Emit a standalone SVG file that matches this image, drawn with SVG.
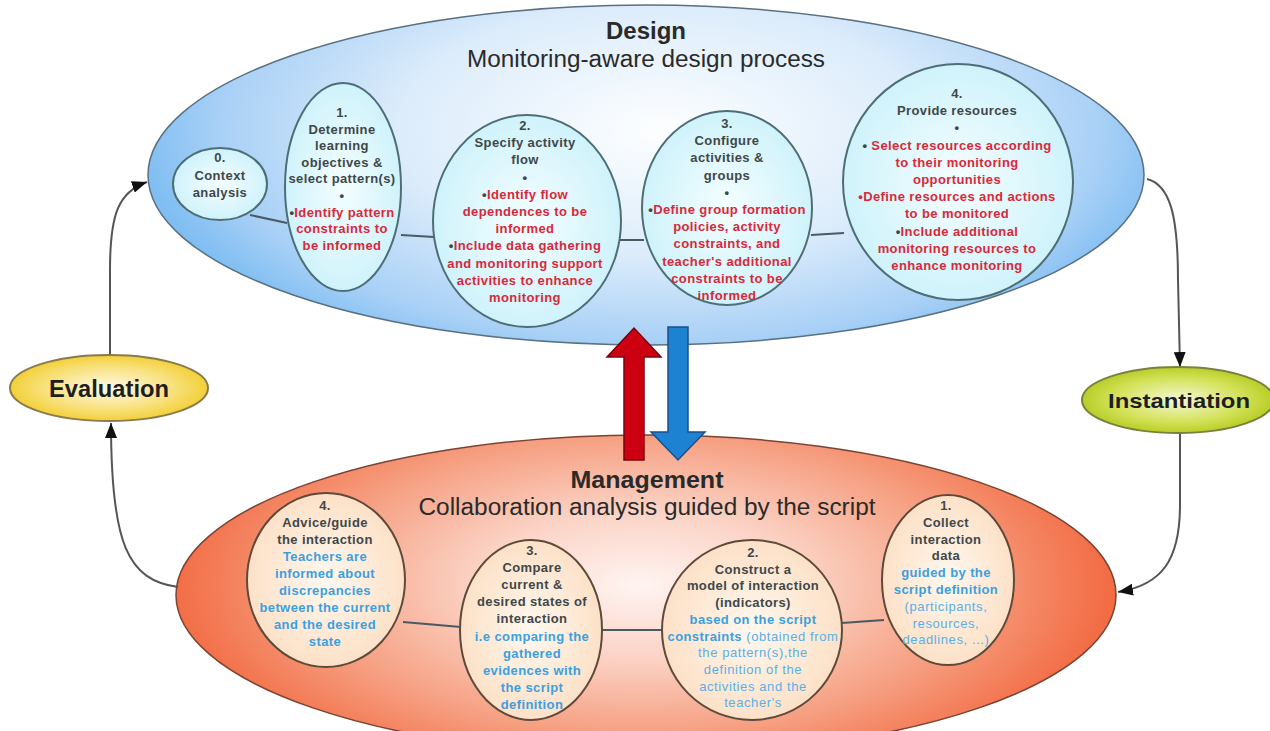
<svg xmlns="http://www.w3.org/2000/svg" width="1270" height="731" viewBox="0 0 1270 731">
<style>
.t{font-family:"Liberation Sans",Arial,sans-serif;font-weight:bold;font-size:13px;letter-spacing:0.4px;text-anchor:middle}
.g{fill:#3f4749}
.r{fill:#d9283a}
.b{fill:#3c9fe0}
.bl{fill:#5aafe6;font-weight:normal;letter-spacing:0.6px}
.dn{stroke:#4e6e76;stroke-width:2;fill:url(#gDN)}
.mn{stroke:#5e4a3a;stroke-width:2;fill:url(#gMN)}
.lk{stroke:#4a5a60;stroke-width:2;fill:none}
.cn{stroke:#555;stroke-width:2;fill:none;marker-end:url(#ah)}
.h1{font-family:"Liberation Sans",Arial,sans-serif;font-weight:bold;font-size:23px;text-anchor:middle;fill:#2a2a2a}
.h2{font-family:"Liberation Sans",Arial,sans-serif;font-size:23px;text-anchor:middle;fill:#2a2a2a}
</style>
<defs>
<radialGradient id="gDesign" gradientUnits="userSpaceOnUse" cx="0" cy="0" r="1" gradientTransform="translate(660,130) scale(520,250)">
<stop offset="0" stop-color="#fdfeff"/><stop offset="0.5" stop-color="#dcecfb"/><stop offset="0.85" stop-color="#a8d0f6"/><stop offset="1" stop-color="#80bef2"/>
</radialGradient>
<radialGradient id="gMan" gradientUnits="userSpaceOnUse" cx="0" cy="0" r="1" gradientTransform="translate(640,585) scale(470,215)">
<stop offset="0" stop-color="#fff4f2"/><stop offset="0.35" stop-color="#fbd2c4"/><stop offset="0.7" stop-color="#f69e80"/><stop offset="1" stop-color="#f26c44"/>
</radialGradient>
<radialGradient id="gDN" cx="0.5" cy="0.5" r="0.6">
<stop offset="0" stop-color="#f4feff"/><stop offset="1" stop-color="#c8f0fa"/>
</radialGradient>
<radialGradient id="gMN" cx="0.5" cy="0.5" r="0.6">
<stop offset="0" stop-color="#fff8ef"/><stop offset="1" stop-color="#fcdcbf"/>
</radialGradient>
<radialGradient id="gEval" cx="0.5" cy="0.5" r="0.55">
<stop offset="0" stop-color="#fffbe8"/><stop offset="0.6" stop-color="#f8e07a"/><stop offset="1" stop-color="#f1cb25"/>
</radialGradient>
<radialGradient id="gInst" cx="0.5" cy="0.5" r="0.55">
<stop offset="0" stop-color="#f4f8d8"/><stop offset="0.6" stop-color="#d4e25a"/><stop offset="1" stop-color="#b0c818"/>
</radialGradient>
<marker id="ah" markerUnits="userSpaceOnUse" markerWidth="16" markerHeight="12" refX="15" refY="6" orient="auto">
<path d="M0,0 L15,6 L0,12 z" fill="#111"/>
</marker>
</defs>
<rect width="1270" height="731" fill="#ffffff"/>

<g id="design">
<ellipse cx="646" cy="175" rx="498" ry="170" fill="url(#gDesign)" stroke="#5a7080" stroke-width="1.5"/>
<text class="h1" x="646" y="39" textLength="80" lengthAdjust="spacingAndGlyphs">Design</text>
<text class="h2" x="646" y="67" textLength="358" lengthAdjust="spacingAndGlyphs">Monitoring-aware design process</text>
</g>

<g id="management">
<ellipse cx="646" cy="595" rx="470" ry="160" fill="url(#gMan)" stroke="#7a4434" stroke-width="1.5"/>
<text class="h1" x="647" y="488" textLength="153" lengthAdjust="spacingAndGlyphs">Management</text>
<text class="h2" x="647" y="515" textLength="457" lengthAdjust="spacingAndGlyphs">Collaboration analysis guided by the script</text>
</g>

<g id="connectors">
<path class="lk" d="M250,215 L287,223"/>
<path class="lk" d="M401,235 L434,237"/>
<path class="lk" d="M619,240 L644,240"/>
<path class="lk" d="M811,235 L844,233"/>
<path class="lk" d="M403,622 L461,627"/>
<path class="lk" d="M601,630 L663,630"/>
<path class="lk" d="M842,623 L884,620"/>
<path class="cn" d="M110,355 L110,270 C110,215 118,192 147,182"/>
<path class="cn" d="M178,587 C128,580 111,545 111,423"/>
<path class="cn" d="M1147,179 C1170,185 1178,215 1178,280 L1180,367"/>
<path class="cn" d="M1180,433 L1180,505 C1180,560 1162,585 1118,592"/>
</g>

<g id="d0">
<ellipse class="dn" cx="220" cy="184" rx="47" ry="36"/>
<text class="t g"><tspan x="220" y="162">0.</tspan><tspan x="220" y="180">Context</tspan><tspan x="220" y="197">analysis</tspan></text>
</g>

<g id="d1">
<ellipse class="dn" cx="343" cy="187" rx="58" ry="104"/>
<text class="t g"><tspan x="342" y="117">1.</tspan><tspan x="342" y="133.6">Determine</tspan><tspan x="342" y="150.2">learning</tspan><tspan x="342" y="166.8">objectives &amp;</tspan><tspan x="342" y="183.4">select pattern(s)</tspan><tspan x="342" y="200">•</tspan></text>
<text class="t r"><tspan x="342" y="216.6"><tspan class="g">•</tspan>Identify pattern</tspan><tspan x="342" y="233.2">constraints to</tspan><tspan x="342" y="249.8">be informed</tspan></text>
</g>

<g id="d2">
<ellipse class="dn" cx="527" cy="221" rx="94" ry="106"/>
<text class="t g"><tspan x="525" y="130">2.</tspan><tspan x="525" y="147.2">Specify activity</tspan><tspan x="525" y="164.4">flow</tspan><tspan x="525" y="181.6">•</tspan></text>
<text class="t r"><tspan x="525" y="198.8"><tspan class="g">•</tspan>Identify flow</tspan><tspan x="525" y="216">dependences to be</tspan><tspan x="525" y="233.2">informed</tspan><tspan x="525" y="250.4"><tspan class="g">•</tspan>Include data gathering</tspan><tspan x="525" y="267.6">and monitoring support</tspan><tspan x="525" y="284.8">activities to enhance</tspan><tspan x="525" y="302">monitoring</tspan></text>
</g>

<g id="d3">
<ellipse class="dn" cx="727" cy="208" rx="85" ry="97"/>
<text class="t g"><tspan x="727" y="128">3.</tspan><tspan x="727" y="145.2">Configure</tspan><tspan x="727" y="162.4">activities &amp;</tspan><tspan x="727" y="179.6">groups</tspan><tspan x="727" y="196.8">•</tspan></text>
<text class="t r"><tspan x="727" y="214"><tspan class="g">•</tspan>Define group formation</tspan><tspan x="727" y="231.2">policies, activity</tspan><tspan x="727" y="248.4">constraints, and</tspan><tspan x="727" y="265.6">teacher's additional</tspan><tspan x="727" y="282.8">constraints to be</tspan><tspan x="727" y="300">informed</tspan></text>
</g>

<g id="d4">
<ellipse class="dn" cx="958" cy="182" rx="115" ry="118"/>
<text class="t g"><tspan x="957" y="98">4.</tspan><tspan x="957" y="115.2">Provide resources</tspan><tspan x="957" y="132.4">•</tspan></text>
<text class="t r"><tspan x="957" y="149.6"><tspan class="g">•</tspan> Select resources according</tspan><tspan x="957" y="166.8">to their monitoring</tspan><tspan x="957" y="184">opportunities</tspan><tspan x="957" y="201.2">•Define resources and actions</tspan><tspan x="957" y="218.4">to be monitored</tspan><tspan x="957" y="235.6"><tspan class="g">•</tspan>Include additional</tspan><tspan x="957" y="252.8">monitoring resources to</tspan><tspan x="957" y="270">enhance monitoring</tspan></text>
</g>

<g id="m4">
<ellipse class="mn" cx="326" cy="580" rx="79" ry="87"/>
<text class="t g"><tspan x="325" y="510">4.</tspan><tspan x="325" y="527">Advice/guide</tspan><tspan x="325" y="544">the interaction</tspan></text>
<text class="t b"><tspan x="325" y="561">Teachers are</tspan><tspan x="325" y="578">informed about</tspan><tspan x="325" y="595">discrepancies</tspan><tspan x="325" y="612">between the current</tspan><tspan x="325" y="629">and the desired</tspan><tspan x="325" y="646">state</tspan></text>
</g>

<g id="m3">
<ellipse class="mn" cx="531" cy="630" rx="71" ry="90"/>
<text class="t g"><tspan x="532" y="555">3.</tspan><tspan x="532" y="572.1">Compare</tspan><tspan x="532" y="589.2">current &amp;</tspan><tspan x="532" y="606.3">desired states of</tspan><tspan x="532" y="623.4">interaction</tspan></text>
<text class="t b"><tspan x="532" y="640.5">i.e comparing the</tspan><tspan x="532" y="657.6">gathered</tspan><tspan x="532" y="674.7">evidences with</tspan><tspan x="532" y="691.8">the script</tspan><tspan x="532" y="708.9">definition</tspan></text>
</g>

<g id="m2">
<ellipse class="mn" cx="752" cy="630" rx="90" ry="90"/>
<text class="t g"><tspan x="753" y="557">2.</tspan><tspan x="753" y="573.7">Construct a</tspan><tspan x="753" y="590.4">model of interaction</tspan><tspan x="753" y="607.1">(indicators)</tspan></text>
<text class="t b"><tspan x="753" y="623.8">based on the script</tspan><tspan x="753" y="640.5">constraints<tspan class="bl"> (obtained from</tspan></tspan></text>
<text class="t bl"><tspan x="753" y="657.2">the pattern(s),the</tspan><tspan x="753" y="673.9">definition of the</tspan><tspan x="753" y="690.6">activities and the</tspan><tspan x="753" y="707.3">teacher's</tspan></text>
</g>

<g id="m1">
<ellipse class="mn" cx="948" cy="580" rx="66" ry="85"/>
<text class="t g"><tspan x="946" y="510">1.</tspan><tspan x="946" y="526.8">Collect</tspan><tspan x="946" y="543.6">interaction</tspan><tspan x="946" y="560.4">data</tspan></text>
<text class="t b"><tspan x="946" y="577.2">guided by the</tspan><tspan x="946" y="594">script definition</tspan></text>
<text class="t bl"><tspan x="946" y="610.8">(participants,</tspan><tspan x="946" y="627.6">resources,</tspan><tspan x="946" y="644.4">deadlines, ...)</tspan></text>
</g>

<g id="evaluation">
<ellipse cx="109" cy="388" rx="99" ry="33" fill="url(#gEval)" stroke="#8a7a50" stroke-width="2"/>
<text x="109" y="397" font-family="Liberation Sans, Arial, sans-serif" font-weight="bold" font-size="23" text-anchor="middle" fill="#1e1e1e" textLength="120" lengthAdjust="spacingAndGlyphs">Evaluation</text>
</g>

<g id="instantiation">
<ellipse cx="1178" cy="400" rx="96" ry="33" fill="url(#gInst)" stroke="#7a8040" stroke-width="2"/>
<text x="1179" y="408" font-family="Liberation Sans, Arial, sans-serif" font-weight="bold" font-size="21" text-anchor="middle" fill="#1e1e1e" textLength="142" lengthAdjust="spacingAndGlyphs">Instantiation</text>
</g>

<g id="flow-arrows">
<polygon points="624,460 624,357 607,357 634,328 661,357 644,357 644,460" fill="#cc0010" stroke="#7a0010" stroke-width="1.5"/>
<polygon points="668,327 688,327 688,432 705,432 678,460 651,432 668,432" fill="#1e82d2" stroke="#1a4f8a" stroke-width="1.5"/>
</g>
</svg>
